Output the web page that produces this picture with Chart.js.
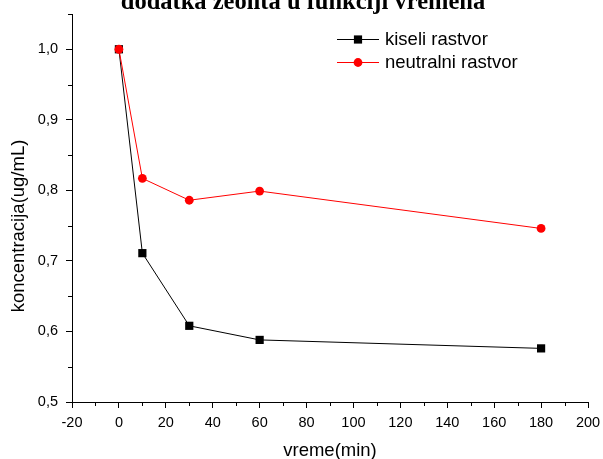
<!DOCTYPE html>
<html>
<head>
<meta charset="utf-8">
<script src="https://cdn.jsdelivr.net/npm/chart.js@4/dist/chart.umd.min.js"></script>
<style>
html,body{margin:0;padding:0;background:#fff;}
#wrap{position:relative;width:603px;height:459px;}
</style>
</head>
<body>
<div id="wrap"><canvas id="c" width="603" height="459"></canvas></div>
<script>
const titleText = 'dodatka zeolita u funkciji vremena';
const xTitle = 'vreme(min)';
const yTitle = 'koncentracija(ug/mL)';
const times = [0, 10, 30, 60, 180];
const kiseli = [1.0, 0.711, 0.608, 0.588, 0.576];
const neutralni = [1.0, 0.817, 0.786, 0.799, 0.746];
const seriesNames = ['kiseli rastvor', 'neutralni rastvor'];
const xMajorTicks = [-20, 0, 20, 40, 60, 80, 100, 120, 140, 160, 180, 200];
const xMinorTicks = [-10, 10, 30, 50, 70, 90, 110, 130, 150, 170, 190];
const yMajorTicks = [0.5, 0.6, 0.7, 0.8, 0.9, 1.0];
const yMinorTicks = [0.55, 0.65, 0.75, 0.85, 0.95, 1.05];

const FONT = '"Liberation Sans", Arial, sans-serif';

function toPts(xs, ys){ return xs.map((x,i)=>({x:x, y:ys[i]})); }

const extras = {
  id: 'extras',
  afterDraw(chart){
    const ctx = chart.ctx;
    const xs = chart.scales.x, ys = chart.scales.y;
    ctx.save();
    // title (top part clipped by page edge)
    ctx.fillStyle = '#000';
    ctx.font = 'bold 24.5px "Liberation Serif", "Times New Roman", serif';
    ctx.textAlign = 'center';
    ctx.textBaseline = 'alphabetic';
    ctx.fillText(titleText, 303, 9);
    // y axis title
    ctx.font = '18.5px ' + FONT;
    ctx.translate(19, 226);
    ctx.rotate(-Math.PI/2);
    ctx.textBaseline = 'middle';
    ctx.fillText(yTitle, 0, 0);
    ctx.restore();

    // minor ticks
    ctx.save();
    ctx.strokeStyle = '#000';
    ctx.lineWidth = 1;
    ctx.beginPath();
    xMinorTicks.forEach(v => {
      const px = Math.round(xs.getPixelForValue(v)) + 0.5;
      ctx.moveTo(px, xs.top); ctx.lineTo(px, xs.top + 4);
    });
    yMinorTicks.forEach(v => {
      const py = Math.round(ys.getPixelForValue(v)) + 0.5;
      ctx.moveTo(ys.right, py); ctx.lineTo(ys.right - 4, py);
    });
    ctx.stroke();
    ctx.restore();

    // legend
    ctx.save();
    const items = [
      {name: seriesNames[0], color:'#000', style:'rect', r:5.8, y:39},
      {name: seriesNames[1], color:'#ff0000', style:'circle', r:4.4, y:62}
    ];
    items.forEach(it=>{
      ctx.strokeStyle = it.color;
      ctx.lineWidth = 1;
      ctx.beginPath();
      ctx.moveTo(337, it.y + 0.5); ctx.lineTo(379, it.y + 0.5);
      ctx.stroke();
      ctx.fillStyle = it.color;
      Chart.helpers.drawPoint(ctx, {pointStyle: it.style, radius: it.r, borderWidth: 0}, 358, it.y + 0.5);
      ctx.fillStyle = '#000';
      ctx.font = '18.5px ' + FONT;
      ctx.textAlign = 'left';
      ctx.textBaseline = 'middle';
      ctx.fillText(it.name, 385, it.y + 1);
    });
    ctx.restore();
  }
};

new Chart(document.getElementById('c'), {
  type: 'scatter',
  data: {
    datasets: [
      {
        label: seriesNames[0],
        data: toPts(times, kiseli),
        showLine: true,
        borderColor: '#000',
        backgroundColor: '#000',
        borderWidth: 1,
        pointStyle: 'rect',
        pointRadius: 5.8,
        pointBorderWidth: 0,
        order: 2
      },
      {
        label: seriesNames[1],
        data: toPts(times, neutralni),
        showLine: true,
        borderColor: '#ff0000',
        backgroundColor: '#ff0000',
        borderWidth: 1,
        pointStyle: 'circle',
        pointRadius: 4.4,
        pointBorderWidth: 0,
        order: 1
      }
    ]
  },
  plugins: [extras],
  options: {
    responsive: false,
    animation: false,
    devicePixelRatio: 1,
    layout: { padding: { top: 14, right: 15, left: 0, bottom: 0 } },
    plugins: {
      legend: { display: false },
      tooltip: { enabled: false },
      title: { display: false }
    },
    scales: {
      x: {
        type: 'linear',
        min: -20, max: 200,
        afterBuildTicks: s => { s.ticks = xMajorTicks.map(v=>({value:v})); },
        afterFit: s => { s.height = 57; s.paddingLeft = 0; s.paddingRight = 0; },
        border: { display: true, color: '#000', width: 1 },
        grid: { drawOnChartArea: false, drawTicks: true, tickLength: 6, color: '#000' },
        ticks: { color: '#000', font: { family: FONT, size: 14.5 }, padding: 6, maxRotation: 0, autoSkip: false,
                 callback: v => String(v) },
        title: { display: true, text: xTitle, color: '#000', font: { family: FONT, size: 18.5 }, padding: { top: 4, bottom: -3 } }
      },
      y: {
        type: 'linear',
        min: 0.5, max: 1.05,
        afterBuildTicks: s => { s.ticks = yMajorTicks.map(v=>({value:v})); },
        afterFit: s => { s.width = 72; s.paddingTop = 0; s.paddingBottom = 0; },
        border: { display: true, color: '#000', width: 1 },
        grid: { drawOnChartArea: false, drawTicks: true, tickLength: 6, color: '#000' },
        ticks: { color: '#000', font: { family: FONT, size: 14.5 }, padding: 8, autoSkip: false,
                 callback: v => v.toFixed(1).replace('.', ',') }
      }
    }
  }
});
</script>
</body>
</html>
